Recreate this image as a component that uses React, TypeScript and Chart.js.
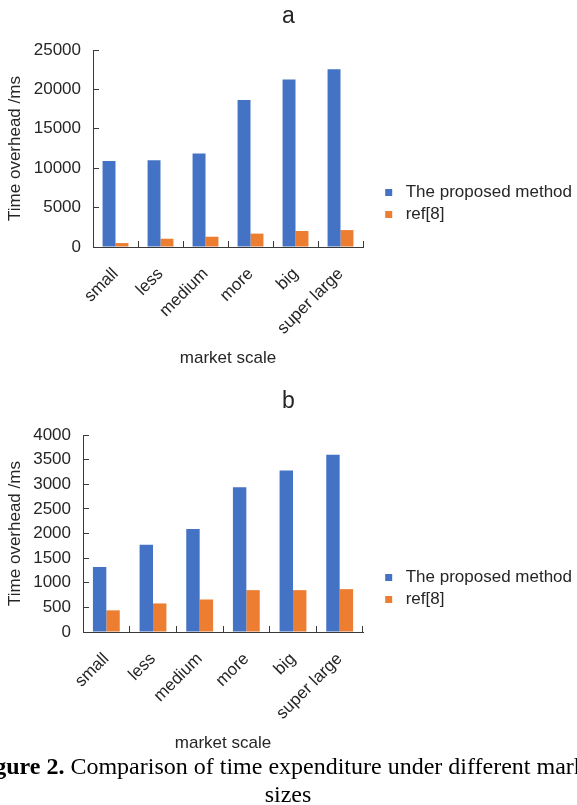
import React, { useEffect, useRef } from "react";
import { Chart, registerables } from "chart.js";

Chart.register(...registerables);

// ---- data ----
const categories = ["small", "less", "medium", "more", "big", "super large"];
const seriesNames = ["The proposed method", "ref[8]"];
const proposedA = [10900, 11000, 11850, 18650, 21250, 22550];
const refA = [500, 1050, 1300, 1700, 2030, 2150];
const proposedB = [1320, 1770, 2090, 2940, 3280, 3600];
const refB = [440, 580, 660, 850, 850, 870];
const yMaxA = 25000;
const yStepA = 5000;
const yMaxB = 4000;
const yStepB = 500;
const xTitle = "market scale";
const yTitle = "Time overhead /ms";

const FONT = "'Liberation Sans', Arial, Helvetica, sans-serif";
const TEXT = "#262626";
const AXIS = "#3a3a3a";
const BLUE = "#4472C4";
const ORANGE = "#ED7D31";

type PanelProps = {
  title: string;
  proposed: number[];
  reference: number[];
  yMax: number;
  yStep: number;
  top: number;
  axisWidth: number;
};

function Panel({ title, proposed, reference, yMax, yStep, top, axisWidth }: PanelProps) {
  const ref = useRef<HTMLCanvasElement | null>(null);
  useEffect(() => {
    if (!ref.current) return;
    const font = { family: FONT, size: 17, weight: "normal" as const };
    const chart = new Chart(ref.current, {
      type: "bar",
      data: {
        labels: categories,
        datasets: [
          {
            label: seriesNames[0],
            data: proposed,
            backgroundColor: BLUE,
            borderWidth: 0,
            categoryPercentage: 0.575,
            barPercentage: 1,
          },
          {
            label: seriesNames[1],
            data: reference,
            backgroundColor: ORANGE,
            borderWidth: 0,
            categoryPercentage: 0.575,
            barPercentage: 1,
          },
        ],
      },
      options: {
        animation: false,
        responsive: false,
        maintainAspectRatio: false,
        events: [],
        layout: { padding: { left: 0, right: 0, top: 0, bottom: 0 } },
        plugins: {
          title: {
            display: true,
            text: title,
            color: TEXT,
            font: { family: FONT, size: 23, weight: "normal" },
            padding: { top: 2.5, bottom: 19.9 },
          },
          legend: {
            position: "right",
            align: "center",
            maxWidth: 201.8,
            labels: {
              usePointStyle: true,
              pointStyle: "rect",
              boxWidth: 17,
              boxHeight: 7,
              padding: 5,
              color: TEXT,
              font,
            },
          },
          tooltip: { enabled: false },
        },
        scales: {
          x: {
            grid: {
              display: true,
              drawOnChartArea: false,
              drawTicks: true,
              tickLength: -6,
              color: AXIS,
              offset: true,
            },
            border: { display: true, color: AXIS, width: 1 },
            ticks: {
              color: TEXT,
              font,
              minRotation: 45,
              maxRotation: 45,
              autoSkip: false,
              padding: 23,
            },
            title: {
              display: true,
              text: xTitle,
              color: TEXT,
              font,
              padding: { top: 0, bottom: 38.8 },
            },
            afterFit: (s: any) => {
              s.height = 160;
            },
          },
          y: {
            min: 0,
            max: yMax,
            grid: {
              display: true,
              drawOnChartArea: false,
              drawTicks: true,
              tickLength: -6,
              color: AXIS,
            },
            border: { display: true, color: AXIS, width: 1 },
            ticks: {
              stepSize: yStep,
              color: TEXT,
              font,
              padding: 18,
              callback: (v: any) => String(v),
            },
            title: {
              display: true,
              text: yTitle,
              color: TEXT,
              font,
              padding: { top: 4.8, bottom: 0 },
            },
            afterFit: (s: any) => {
              s.width = axisWidth;
            },
          },
          pad: {
            type: "linear",
            position: "right",
            display: true,
            grid: { display: false },
            border: { display: false },
            ticks: { display: false },
            afterFit: (s: any) => {
              s.width = 12.2;
            },
          },
        },
      } as any,
    });
    return () => chart.destroy();
  }, [title, proposed, reference, yMax, yStep, axisWidth]);

  return (
    <canvas
      ref={ref}
      width={577}
      height={407}
      style={{ position: "absolute", left: 0, top, width: 577, height: 407 }}
    />
  );
}

export default function App() {
  return (
    <div
      style={{
        position: "absolute",
        left: 0,
        top: 0,
        width: 577,
        height: 805,
        overflow: "hidden",
        background: "#ffffff",
      }}
    >
      <Panel title="a" proposed={proposedA} reference={refA} yMax={yMaxA} yStep={yStepA} top={0} axisWidth={93} />
      <Panel title="b" proposed={proposedB} reference={refB} yMax={yMaxB} yStep={yStepB} top={385} axisWidth={83} />
      <div
        style={{
          position: "absolute",
          left: 288 - 400,
          top: 752,
          width: 800,
          textAlign: "center",
          fontFamily: "'Liberation Serif', 'Times New Roman', serif",
          fontSize: 24,
          lineHeight: "28px",
          color: "#000",
          whiteSpace: "nowrap",
        }}
      >
        <b>Figure 2.</b> Comparison of time expenditure under different market
        <br />
        sizes
      </div>
    </div>
  );
}
